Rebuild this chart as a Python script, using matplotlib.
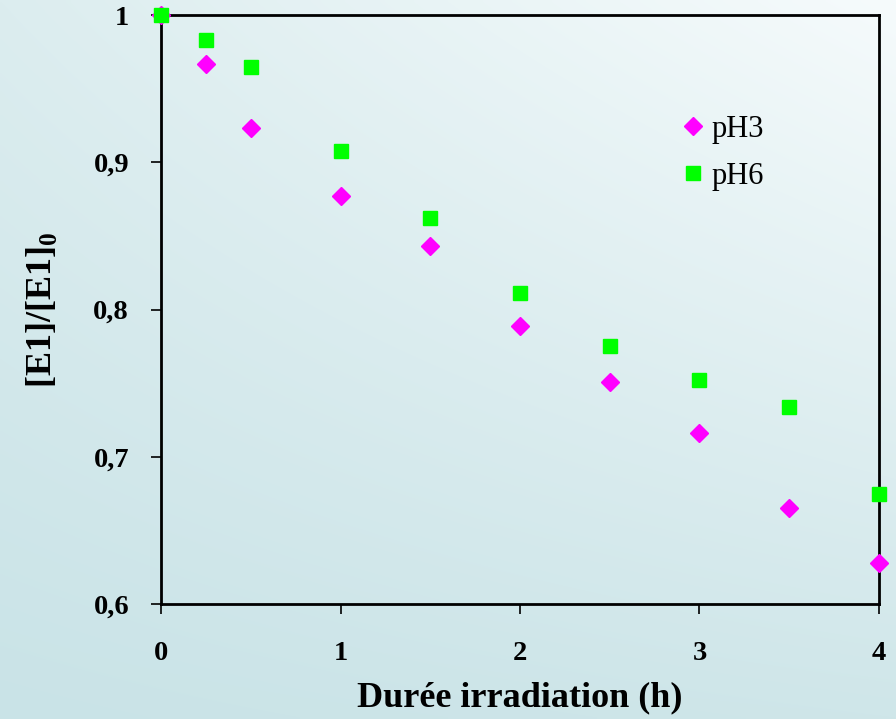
import numpy as np
import matplotlib
matplotlib.use("Agg")
import matplotlib.pyplot as plt

# ---- données ----
duree = [0, 0.25, 0.5, 1, 1.5, 2, 2.5, 3, 3.5, 4]
ph3 = [1.0, 0.967, 0.923, 0.877, 0.843, 0.789, 0.751, 0.716, 0.665, 0.628]
ph6 = [1.0, 0.983, 0.965, 0.908, 0.862, 0.811, 0.775, 0.752, 0.734, 0.675]
xticks = [0, 1, 2, 3, 4]
yticks = [0.6, 0.7, 0.8, 0.9, 1.0]
ytick_labels = ["0,6", "0,7", "0,8", "0,9", "1"]

plt.rcParams["font.family"] = ["Liberation Serif", "DejaVu Serif"]
plt.rcParams["mathtext.fontset"] = "custom"
plt.rcParams["mathtext.rm"] = "Liberation Serif"
plt.rcParams["mathtext.bf"] = "Liberation Serif:bold"

fig = plt.figure(figsize=(8.96, 7.19), dpi=100)

# fond dégradé : coins (haut-gauche, haut-droite, bas-gauche, bas-droite)
bg = fig.add_axes([0, 0, 1, 1], zorder=-10)
h, w = 200, 250
v, u = np.mgrid[0:h, 0:w]
v = (v / (h - 1))[..., None]
u = (u / (w - 1))[..., None]
tl = np.array([0xdc, 0xed, 0xef]) / 255
tr = np.array([0xf6, 0xfb, 0xfc]) / 255
bl = np.array([0xc9, 0xe3, 0xe7]) / 255
br = np.array([0xcf, 0xe6, 0xe9]) / 255
img = (tl * (1 - u) * (1 - v) + tr * u * (1 - v)
       + bl * (1 - u) * v + br * u * v)
bg.imshow(img, aspect="auto", extent=[0, 1, 0, 1], interpolation="bilinear")
bg.axis("off")

ax = fig.add_axes([0.1797, 0.160, 0.8013, 0.819])
ax.patch.set_alpha(0)

ax.plot(duree, ph3, linestyle="none", marker="D", markersize=9,
        color="#ff00ff", label="pH3", clip_on=False, zorder=3)
ax.plot(duree, ph6, linestyle="none", marker="s", markersize=10,
        color="#00ff00", label="pH6", clip_on=False, zorder=4)

ax.set_xlim(0, 4)
ax.set_ylim(0.6, 1.0)
ax.set_xticks(xticks)
ax.set_xticklabels([str(v) for v in xticks])
ax.set_yticks(yticks)
ax.set_yticklabels(ytick_labels)
ax.tick_params(direction="out", length=7, width=1.2, labelsize=20.5)
ax.tick_params(axis="x", pad=20)
ax.tick_params(axis="y", pad=16)
for lab in ax.get_xticklabels() + ax.get_yticklabels():
    lab.set_fontweight("bold")
for s in ax.spines.values():
    s.set_linewidth(2)
    s.set_color("black")

ax.set_xlabel("Durée irradiation (h)", fontsize=26, fontweight="bold", labelpad=11)
ax.set_ylabel(r"[E1]/[E1]$_{\mathbf{0}}$", fontsize=26, fontweight="bold", labelpad=25)

leg = ax.legend(loc="center", bbox_to_anchor=(0.780, 0.766), frameon=False,
                fontsize=22, handletextpad=0.1, labelspacing=0.6,
                handlelength=1.0)

fig.savefig("out.png", dpi=100)
